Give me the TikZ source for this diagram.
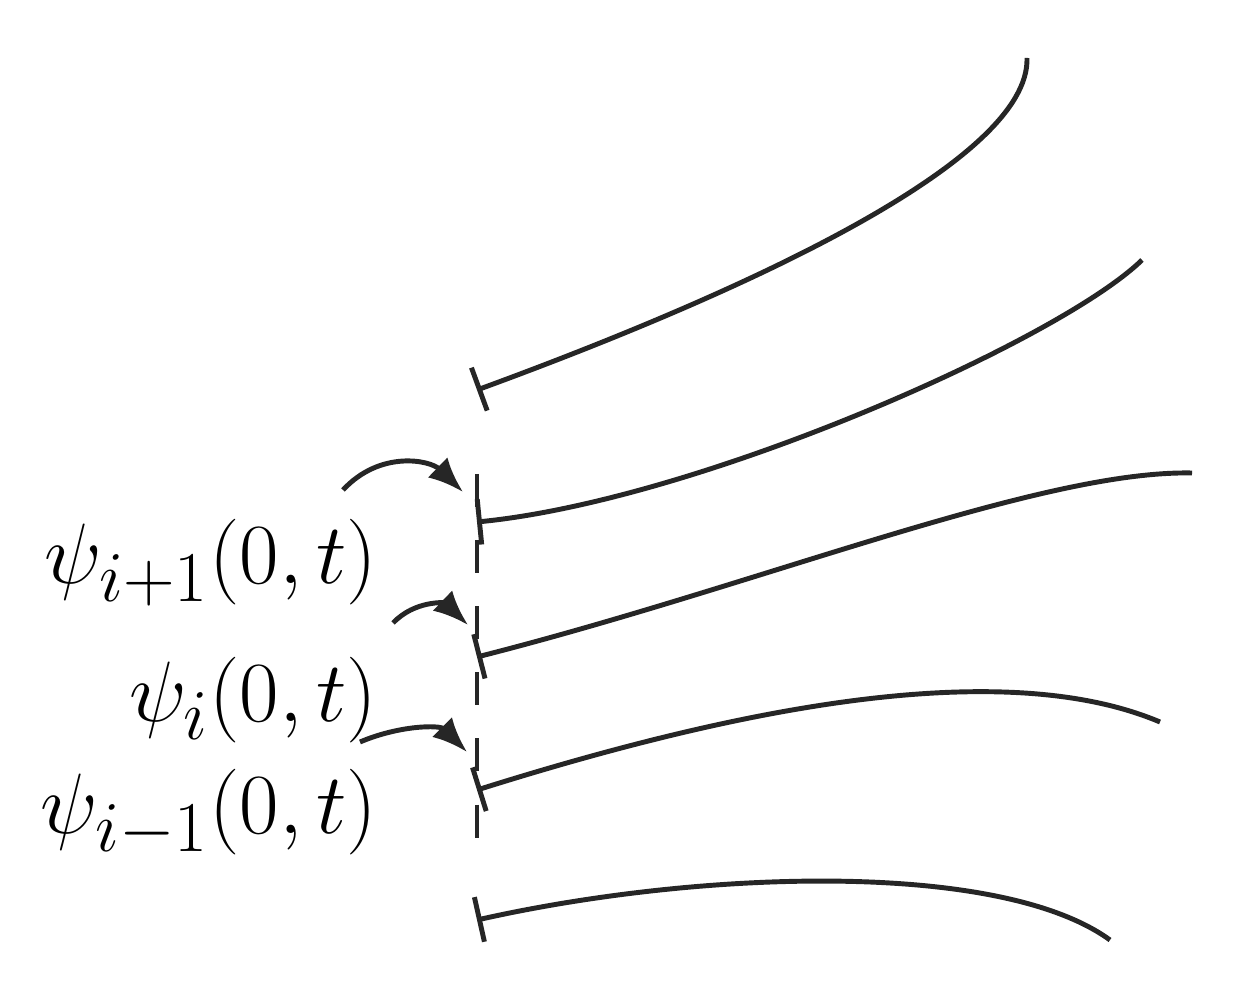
\documentclass[tikz,border=0pt]{standalone}
\usepackage{graphicx}
\usetikzlibrary{arrows.meta}
\tikzset{
    wave/.style={line width=1.4pt,color=black!85,{Bar[width=13pt,line width=1.4pt]}-},
    jump/.style={line width=1.4pt,color=black!85,-{Latex[length=10pt,width=8pt]}},
    boundary/.style={line width=1.4pt,color=black!85,dash pattern=on 9.4pt off 9.4pt},
    lbl/.style={anchor=base east,inner sep=0pt,font=\fontsize{24.88}{30}\selectfont}
}
\newcommand{\biglbl}[1]{\scalebox{0.98}{$#1$}}

\begin{document}
\begin{tikzpicture}[x=0.01cm,y=-0.01cm]
  \useasboundingbox (0,0) rectangle (1257,995);

  % Boundary
  \draw[boundary] (477,474) coordinate (btop) -- (477,842) coordinate (bbot);

  % Curves
  \coordinate (s1) at (477,390);
  \coordinate (s2) at (477,522);
  \coordinate (s3) at (477,657);
  \coordinate (s4) at (477,790);
  \coordinate (s5) at (477,920);
  \draw[wave] (s1) .. controls (750,290) and (1030,160) .. (1027,58);
  \draw[wave] (s2) .. controls (700,500) and (1060,340) .. (1142,260);
  \draw[wave] (s3) .. controls (760,585) and (1040,470) .. (1192,473);
  \draw[wave] (s4) .. controls (700,720) and (990,650) .. (1160,722);
  \draw[wave] (s5) .. controls (700,870) and (1000,860) .. (1110,940);

  % Labels
  \node[lbl] (psiA) at (378,584) {\biglbl{\psi_{i+1}(0,t)}};
  \node[lbl] (psiB) at (378,722) {\biglbl{\psi_{i}(0,t)}};
  \node[lbl] (psiC) at (378,834) {\biglbl{\psi_{i-1}(0,t)}};

  % Arrows
  \coordinate (a1) at (343,490);
  \coordinate (a2) at (393,623);
  \coordinate (a3) at (360,742);
  \coordinate (t1) at (463,492);
  \coordinate (t2) at (468,625);
  \coordinate (t3) at (467,752);
  \draw[jump] (a1) .. controls (380,450) and (430,460) .. (t1);
  \draw[jump] (a2) .. controls (415,600) and (445,603) .. (t2);
  \draw[jump] (a3) .. controls (400,725) and (440,725) .. (t3);
\end{tikzpicture}
\end{document}
